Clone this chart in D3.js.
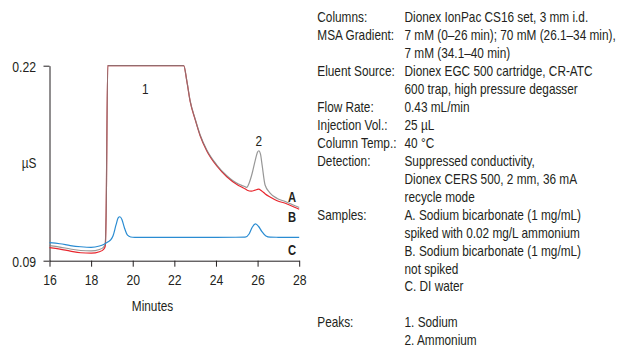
<!DOCTYPE html>
<html><head><meta charset="utf-8">
<script src="https://cdn.jsdelivr.net/npm/d3@7"></script>
<style>body{margin:0;background:#fff}svg{display:block}</style>
</head><body>
<svg id="c" width="630" height="349"></svg>
<script>
// ---- data ----
const xTicks = [16, 18, 20, 22, 24, 26, 28];
const yTicks = [0.09, 0.22];
const xTitle = "Minutes";
const yTitle = "µS";

const timeA   = [16, 16.5, 17, 17.5, 18, 18.4, 18.6, 18.68, 18.72, 18.8, 22.45, 22.6, 22.76, 23.0, 23.24, 23.56, 24.04, 24.52, 25.08, 25.32, 25.48, 25.6, 25.74, 25.89, 26.0, 26.06, 26.14, 26.22, 26.36, 26.6, 26.94, 27.33, 27.95, 28];
const signalA = [0.1001, 0.0991, 0.0978, 0.0968, 0.0965, 0.0975, 0.0991, 0.1010, 0.1200, 0.2200, 0.2200, 0.2099, 0.1965, 0.1845, 0.1738, 0.1638, 0.1538, 0.1467, 0.1411, 0.1398, 0.1389, 0.1420, 0.1483, 0.1571, 0.1625, 0.1633, 0.1610, 0.1535, 0.1405, 0.1351, 0.1315, 0.1295, 0.1258, 0.1256];

const timeB   = [16, 16.5, 17, 17.5, 18, 18.4, 18.6, 18.68, 18.72, 18.8, 22.45, 22.6, 22.76, 23.0, 23.24, 23.56, 24.04, 24.52, 25.08, 25.32, 25.5, 25.7, 25.88, 26.04, 26.2, 26.37, 26.6, 26.94, 27.33, 27.95, 28];
const signalB = [0.0987, 0.0977, 0.0964, 0.0953, 0.0950, 0.0960, 0.0976, 0.0998, 0.1200, 0.2200, 0.2200, 0.2097, 0.1962, 0.1841, 0.1733, 0.1632, 0.1532, 0.1460, 0.1402, 0.1385, 0.1370, 0.1364, 0.1370, 0.1377, 0.1365, 0.1345, 0.1325, 0.1300, 0.1283, 0.1246, 0.1243];

const timeC   = [16, 16.5, 17, 17.5, 18, 18.4, 18.6, 18.8, 18.95, 19.05, 19.2, 19.3, 19.38, 19.48, 19.6, 19.75, 19.9, 20.1, 22, 24, 25.4, 25.6, 25.75, 25.9, 26.05, 26.2, 26.4, 26.6, 27, 28];
const signalC = [0.1020, 0.1013, 0.1001, 0.0993, 0.0989, 0.0998, 0.1008, 0.1025, 0.1040, 0.1065, 0.1140, 0.1185, 0.1193, 0.1175, 0.1120, 0.1070, 0.1058, 0.1056, 0.1056, 0.1056, 0.1057, 0.1080, 0.1125, 0.1145, 0.1128, 0.1095, 0.1065, 0.1057, 0.1056, 0.1055];

const seriesNames = ["A", "B", "C"];
const peakNames = ["1", "2"];

const panelLabels = ["Columns:", "MSA Gradient:", "", "Eluent Source:", "", "Flow Rate:", "Injection Vol.:", "Column Temp.:", "Detection:", "", "", "Samples:", "", "", "", "", "", "Peaks:", ""];
const panelValues = ["Dionex IonPac CS16 set, 3 mm i.d.", "7 mM (0–26 min); 70 mM (26.1–34 min),", "7 mM (34.1–40 min)", "Dionex EGC 500 cartridge, CR-ATC", "600 trap, high pressure degasser", "0.43 mL/min", "25 µL", "40 °C", "Suppressed conductivity,", "Dionex CERS 500, 2 mm, 36 mA", "recycle mode", "A. Sodium bicarbonate (1 mg/mL)", "spiked with 0.02 mg/L ammonium", "B. Sodium bicarbonate (1 mg/mL)", "not spiked", "C. DI water", "", "1. Sodium", "2. Ammonium"];

// ---- drawing ----
const svg = d3.select("#c");
const FONT = "'Liberation Sans', Arial, Helvetica, sans-serif";
const INK = "#231f20";
const FS = 14;

const probe = svg.append("text").attr("font-family", FONT).attr("font-size", FS).text(panelValues[0]);
const sx = 184 / probe.node().getComputedTextLength();
probe.remove();

function txt(x, y, s, o = {}) {
  return svg.append("text")
    .attr("transform", `translate(${x},${y}) scale(${o.scale || sx},1)`)
    .attr("font-family", FONT)
    .attr("font-size", o.size || FS)
    .attr("font-weight", o.weight || "normal")
    .attr("text-anchor", o.anchor || "start")
    .attr("fill", INK)
    .text(s);
}

const x = d3.scaleLinear().domain([16, 28]).range([49.5, 299.2]);
const y = d3.scaleLinear().domain([0.09, 0.22]).range([260.7, 65.7]);

const xAxis = svg.append("g").attr("transform", `translate(0,${y(0.09)})`)
  .call(d3.axisBottom(x).tickValues(xTicks).tickSize(6).tickSizeOuter(0).tickPadding(8).tickFormat(d3.format("d")));
const yAxis = svg.append("g").attr("transform", `translate(${x(16)},0)`)
  .call(d3.axisLeft(y).tickValues(yTicks).tickSize(6).tickSizeOuter(0).tickFormat(d3.format(".2f")));
[xAxis, yAxis].forEach(g => {
  g.select(".domain").attr("stroke", INK);
  g.selectAll(".tick line").attr("stroke", INK);
  g.selectAll("text").attr("font-family", FONT).attr("font-size", 14.5).attr("fill", INK);
});
xAxis.selectAll("text").attr("transform", `scale(${sx},1)`);
yAxis.selectAll("text").attr("transform", `scale(${sx},1)`).attr("x", -13.5 / sx).attr("dy", "0.4em");

const line = d3.line().x(d => x(d[0])).y(d => y(d[1])).curve(d3.curveMonotoneX);
const traces = [
  { t: timeB, v: signalB, color: "#e8262d", op: 1 },
  { t: timeA, v: signalA, color: "#7d7d7d", op: 0.8 },
  { t: timeC, v: signalC, color: "#2a8cd2", op: 1 }
];
traces.forEach(s => {
  svg.append("path").datum(d3.zip(s.t, s.v))
    .attr("fill", "none").attr("stroke", s.color).attr("stroke-opacity", s.op)
    .attr("stroke-width", 1.2).attr("d", line);
});

// series labels
txt(288, 201.7, seriesNames[0], { weight: "bold", size: 14, scale: 0.8 });
txt(288, 222.3, seriesNames[1], { weight: "bold", size: 14, scale: 0.8 });
txt(288, 254.5, seriesNames[2], { weight: "bold", size: 14, scale: 0.8 });

// peak labels
txt(145.3, 94.3, peakNames[0], { anchor: "middle" });
const pk = d3.maxIndex(signalA.slice(20)) + 20;
txt(x(timeA[pk]), y(signalA[pk]) - 5, peakNames[1], { anchor: "middle" });

// axis titles
txt(29, 168, yTitle, { anchor: "middle" });
txt(152.5, 311, xTitle, { anchor: "middle" });

// info panel
panelLabels.forEach((s, i) => { if (s) txt(317.3, 22.2 + 17.95 * i, s); });
panelValues.forEach((s, i) => { if (s) txt(404.5, 22.2 + 17.95 * i, s); });
</script>
</body></html>
